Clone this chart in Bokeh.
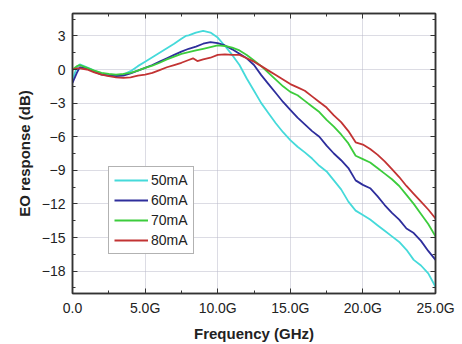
from bokeh.plotting import figure
from bokeh.models import (Range1d, FixedTicker, LinearAxis, Legend, LegendItem, CustomLabelingPolicy)
from bokeh.embed import file_html
from bokeh.resources import INLINE

# ---------------- data ----------------
freq_50 = [0, 0.3, 0.5, 1.0, 1.5, 2.0, 2.5, 3.0, 3.5, 4.0, 4.5, 5.0, 5.5, 6.0, 6.5, 7.0, 7.5, 7.8, 8.0, 8.5,
           9.0, 9.5, 10.0, 10.5, 11.0, 11.5, 12.0, 12.5, 13.0, 13.5, 14.0, 14.5, 15.0, 15.5, 16.0, 16.5,
           17.0, 17.5, 18.0, 18.5, 19.0, 19.5, 20.0, 20.5, 21.0, 21.5, 22.0, 22.5, 23.0, 23.5, 24.0, 24.5, 25.0]
eo_50 = [-0.9, 0.2, 0.45, 0.2, -0.1, -0.35, -0.45, -0.5, -0.45, -0.15, 0.3, 0.7, 1.1, 1.5, 1.9, 2.3, 2.75, 3.0, 3.05, 3.3,
         3.45, 3.3, 2.85, 2.1, 1.3, 0.4, -0.8, -1.9, -3.0, -3.9, -4.8, -5.6, -6.3, -6.9, -7.4, -7.95,
         -8.6, -9.1, -9.9, -10.7, -11.8, -12.6, -13.0, -13.4, -13.9, -14.4, -14.9, -15.4, -16.1, -17.0, -17.5, -18.2, -19.4]

freq_60 = [0, 0.3, 0.5, 1.0, 1.5, 2.0, 2.5, 3.0, 3.5, 4.0, 4.5, 5.0, 5.5, 6.0, 6.5, 7.0, 7.5, 8.0, 8.5,
           9.0, 9.5, 10.0, 10.5, 11.0, 11.5, 12.0, 12.5, 13.0, 13.5, 14.0, 14.5, 15.0, 15.5, 16.0, 16.5,
           17.0, 17.5, 18.0, 18.5, 19.0, 19.5, 20.0, 20.5, 21.0, 21.5, 22.0, 22.5, 23.0, 23.5, 24.0, 24.5, 25.0]
eo_60 = [-1.2, -0.3, 0.2, 0.1, -0.2, -0.45, -0.55, -0.6, -0.55, -0.35, -0.1, 0.15, 0.4, 0.7, 1.0, 1.3, 1.6, 1.85, 2.05,
         2.3, 2.45, 2.35, 2.15, 1.8, 1.4, 1.0, 0.4, -0.5, -1.3, -2.1, -2.9, -3.6, -4.3, -4.9, -5.5,
         -6.0, -6.8, -7.5, -8.1, -8.8, -9.9, -10.3, -10.6, -11.3, -12.1, -12.8, -13.4, -14.2, -14.6, -15.3, -16.2, -17.0]

freq_70 = freq_60
eo_70 = [0.0, 0.3, 0.4, 0.15, -0.1, -0.3, -0.4, -0.45, -0.4, -0.3, -0.1, 0.15, 0.35, 0.6, 0.9, 1.15, 1.4, 1.55, 1.7,
         1.85, 2.0, 2.15, 2.1, 1.95, 1.7, 1.3, 0.8, 0.3, -0.3, -0.9, -1.5, -2.0, -2.3, -2.8, -3.3,
         -3.8, -4.5, -5.1, -5.8, -6.6, -7.7, -8.0, -8.3, -8.8, -9.3, -9.8, -10.4, -11.2, -12.0, -12.9, -13.8, -14.9]

freq_80 = [0, 0.3, 0.5, 1.0, 1.5, 2.0, 2.5, 3.0, 3.5, 4.0, 4.5, 5.0, 5.5, 6.0, 6.5, 7.0, 7.5, 8.0, 8.3, 8.6,
           9.0, 9.5, 10.0, 10.5, 11.0, 11.5, 12.0, 12.5, 13.0, 13.5, 14.0, 14.5, 15.0, 15.5, 16.0, 16.5,
           17.0, 17.5, 18.0, 18.5, 19.0, 19.5, 20.0, 20.5, 21.0, 21.5, 22.0, 22.5, 23.0, 23.5, 24.0, 24.5, 25.0]
eo_80 = [0.0, 0.1, 0.1, 0.0, -0.25, -0.45, -0.6, -0.7, -0.75, -0.7, -0.55, -0.45, -0.3, -0.05, 0.2, 0.4, 0.6, 0.85, 1.0, 0.75,
         0.9, 1.05, 1.3, 1.35, 1.3, 1.3, 1.0, 0.7, 0.3, -0.1, -0.5, -0.9, -1.3, -1.6, -1.9, -2.4,
         -2.9, -3.4, -4.1, -4.7, -5.5, -6.5, -6.7, -7.1, -7.6, -8.2, -8.9, -9.6, -10.4, -11.1, -11.8, -12.5, -13.3]

series_names = ["50mA", "60mA", "70mA", "80mA"]
series_colors = ["#45DADA", "#2E2E9C", "#3CCC3C", "#C23333"]

x_ticks = [0, 5, 10, 15, 20, 25]
x_tick_labels = ["0.0", "5.0G", "10.0G", "15.0G", "20.0G", "25.0G"]
x_minor = [2.5, 7.5, 12.5, 17.5, 22.5]
y_ticks = [3, 0, -3, -6, -9, -12, -15, -18]
y_minor = [4.5, 1.5, -1.5, -4.5, -7.5, -10.5, -13.5, -16.5, -19.5]

FONT = "Liberation Sans"

p = figure(width=462, height=344, output_backend="svg", toolbar_location=None,
           x_range=Range1d(0, 25), y_range=Range1d(-20, 5),
           min_border_left=72, min_border_right=22, min_border_top=12, min_border_bottom=50)
p.background_fill_color = "white"
p.outline_line_color = "#333333"
p.outline_line_width = 1.5

def style_axis(ax):
    ax.axis_line_color = "#333333"
    ax.axis_line_width = 1.5
    ax.major_tick_in = 5
    ax.major_tick_out = 0
    ax.minor_tick_in = 3
    ax.minor_tick_out = 0
    ax.major_tick_line_color = "#333333"
    ax.minor_tick_line_color = "#333333"
    ax.major_label_text_font = FONT
    ax.major_label_text_font_size = "14px"
    ax.major_label_text_color = "#222222"
    ax.axis_label_text_font = FONT
    ax.axis_label_text_font_size = "15px"
    ax.axis_label_text_font_style = "bold"
    ax.axis_label_text_color = "#222222"

hide_js = """
const n = indices.size;
for (let i = 0; i < n; i++) {
  if (typeof indices.unset === "function") { indices.unset(i); }
  else { indices.set(i, false); }
}
return indices;
"""

xt = FixedTicker(ticks=x_ticks, minor_ticks=x_minor)
yt = FixedTicker(ticks=y_ticks, minor_ticks=y_minor)

xa = p.xaxis[0]
xa.ticker = xt
xa.major_label_overrides = {t: l for t, l in zip(x_ticks, x_tick_labels)}
xa.axis_label = "Frequency (GHz)"
style_axis(xa)
xa.major_label_standoff = 6
xa.axis_label_standoff = 6

ya = p.yaxis[0]
ya.ticker = yt
ya.axis_label = "EO response (dB)"
style_axis(ya)
ya.major_label_standoff = 7
ya.axis_label_standoff = 6

top = LinearAxis(ticker=FixedTicker(ticks=x_ticks, minor_ticks=x_minor))
style_axis(top)
top.major_label_standoff = 0
top.major_label_policy = CustomLabelingPolicy(code=hide_js)
right = LinearAxis(ticker=FixedTicker(ticks=y_ticks, minor_ticks=y_minor))
style_axis(right)
right.major_label_standoff = 0
right.major_label_policy = CustomLabelingPolicy(code=hide_js)
p.add_layout(top, "above")
p.add_layout(right, "right")

p.xgrid.ticker = xt
p.ygrid.ticker = yt
for g in (p.xgrid[0], p.ygrid[0]):
    g.grid_line_color = "#b8b8c8"
    g.grid_line_dash = "1 1"
    g.grid_line_width = 1

xs = [freq_50, freq_60, freq_70, freq_80]
ys = [eo_50, eo_60, eo_70, eo_80]
items = []
for name, col, fx, fy in zip(series_names, series_colors, xs, ys):
    r = p.line(fx, fy, line_color=col, line_width=1.8)
    items.append(LegendItem(label=name, renderers=[r]))

legend = Legend(items=items, location=(36, 39))
legend.label_text_font = FONT
legend.label_text_font_size = "14px"
legend.label_text_color = "#222222"
legend.label_height = 14
legend.glyph_height = 14
legend.glyph_width = 34
legend.label_standoff = 3
legend.spacing = 4
legend.padding = 5
legend.margin = 0
legend.border_line_color = "#666666"
legend.border_line_width = 1
legend.background_fill_color = "white"
p.add_layout(legend, "center")

open("out.html", "w").write(file_html(p, INLINE))
